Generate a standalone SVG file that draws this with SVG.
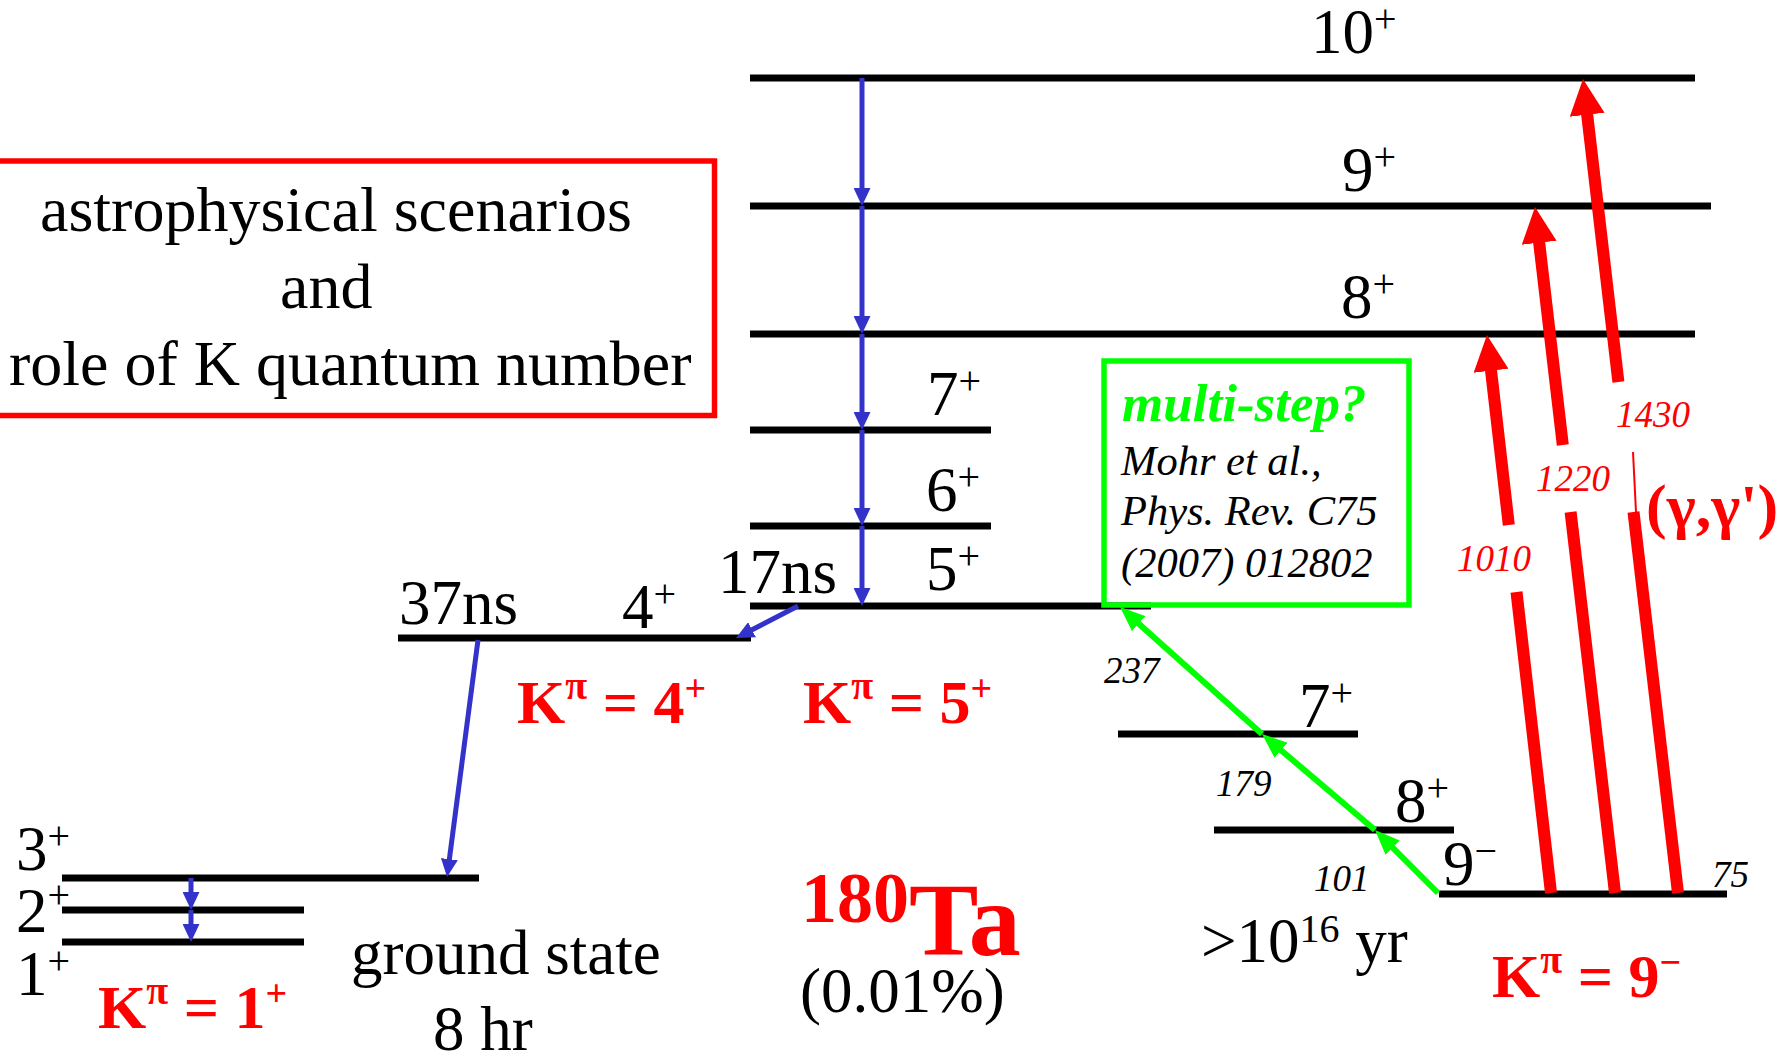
<svg xmlns="http://www.w3.org/2000/svg" width="1776" height="1058" viewBox="0 0 1776 1058">
<style>
.t{font-family:"Liberation Serif","Times New Roman",serif}
.lvl{stroke:#000;stroke-width:7;fill:none}
.lbl{font-size:63px;fill:#000}
.sup{font-size:40px}
.k{font-size:62px;font-weight:bold;fill:#FF0000}
.kpi{font-size:40px}
.ksup{font-size:38px}
.e{font-style:italic;font-size:37px}
.ered{fill:#FF0000}
.blue{stroke:#3333CC;stroke-width:5;fill:none}
.red{stroke:#FF0000;stroke-width:12;fill:none}
.green{stroke:#00FF00;stroke-width:6;fill:none}
.title{font-size:64px;fill:#000}
.ref{font-size:42.5px;font-style:italic;fill:#000}
</style>
<defs>
<marker id="ab" markerUnits="userSpaceOnUse" markerWidth="18" markerHeight="17" refX="6" refY="8.5" orient="auto"><path d="M0,0 L18,8.5 L0,17 z" fill="#3333CC"/></marker>
<marker id="ar" markerUnits="userSpaceOnUse" markerWidth="36" markerHeight="35" refX="11" refY="17.5" orient="auto"><path d="M0,0 L36,17.5 L0,35 z" fill="#FF0000"/></marker>
<marker id="ag" markerUnits="userSpaceOnUse" markerWidth="25" markerHeight="20" refX="10" refY="10" orient="auto"><path d="M0,0 L25,10 L0,20 z" fill="#00FF00"/></marker>
</defs>
<rect width="1776" height="1058" fill="#fff"/>

<g id="title-box">
<rect x="-10" y="161" width="724.5" height="254.5" fill="none" stroke="#FF0000" stroke-width="5.5"/>
<text class="t title" x="40" y="231">astrophysical scenarios</text>
<text class="t title" x="280" y="308">and</text>
<text class="t title" x="9" y="385">role of K quantum number</text>
</g>

<g id="lvl-k5-10p"><line class="lvl" x1="750" y1="78" x2="1695" y2="78"/><text class="t lbl" x="1311" y="53">10<tspan class="sup" dy="-21">+</tspan></text></g>
<g id="lvl-k5-9p"><line class="lvl" x1="750" y1="206" x2="1711" y2="206"/><text class="t lbl" x="1342" y="191">9<tspan class="sup" dy="-21">+</tspan></text></g>
<g id="lvl-k5-8p"><line class="lvl" x1="750" y1="334" x2="1695" y2="334"/><text class="t lbl" x="1341" y="318">8<tspan class="sup" dy="-21">+</tspan></text></g>
<g id="lvl-k5-7p"><line class="lvl" x1="750" y1="430" x2="991" y2="430"/><text class="t lbl" x="927" y="415">7<tspan class="sup" dy="-21">+</tspan></text></g>
<g id="lvl-k5-6p"><line class="lvl" x1="750" y1="526" x2="991" y2="526"/><text class="t lbl" x="926" y="511">6<tspan class="sup" dy="-21">+</tspan></text></g>
<g id="lvl-k5-5p"><line class="lvl" x1="750" y1="606" x2="1151" y2="606"/><text class="t lbl" x="926" y="590">5<tspan class="sup" dy="-21">+</tspan></text><text class="t lbl" x="718" y="593">17ns</text></g>
<g id="lvl-k4-4p"><line class="lvl" x1="398" y1="638" x2="751" y2="638"/><text class="t lbl" x="622" y="628">4<tspan class="sup" dy="-21">+</tspan></text><text class="t lbl" x="399" y="624">37ns</text></g>
<g id="lvl-k1-3p"><line class="lvl" x1="62" y1="878" x2="479" y2="878"/><text class="t lbl" x="16" y="870">3<tspan class="sup" dy="-21">+</tspan></text></g>
<g id="lvl-k1-2p"><line class="lvl" x1="62" y1="910" x2="304" y2="910"/><text class="t lbl" x="16" y="932">2<tspan class="sup" dy="-24">+</tspan></text></g>
<g id="lvl-k1-1p"><line class="lvl" x1="62" y1="942" x2="304" y2="942"/><text class="t lbl" x="16" y="995">1<tspan class="sup" dy="-21">+</tspan></text></g>
<g id="ground-state"><text class="t lbl" x="351" y="974">ground state</text><text class="t lbl" x="433" y="1050">8 hr</text></g>
<g id="lvl-k9-7p"><line class="lvl" x1="1118" y1="734" x2="1358" y2="734"/><text class="t lbl" x="1299" y="727">7<tspan class="sup" dy="-21">+</tspan></text></g>
<g id="lvl-k9-8p"><line class="lvl" x1="1214" y1="830" x2="1454" y2="830"/><text class="t lbl" x="1395" y="822">8<tspan class="sup" dy="-21">+</tspan></text></g>
<g id="lvl-k9-9m"><line class="lvl" x1="1439" y1="894" x2="1727" y2="894"/><text class="t lbl" x="1443" y="885">9<tspan class="sup" dy="-21">−</tspan></text><text class="t e" x="1712" y="887">75</text><text class="t lbl" x="1201" y="962">&gt;10<tspan class="sup" dy="-20">16</tspan><tspan dy="20"> yr</tspan></text></g>

<g id="nucleus"><text class="t" x="801" y="955" font-weight="bold" fill="#FF0000"><tspan font-size="72" dy="-33">180</tspan><tspan font-size="104" dy="33">Ta</tspan></text><text class="t lbl" x="800" y="1012">(0.01%)</text></g>

<g id="k-labels">
<text class="t k" x="98" y="1028">K<tspan class="kpi" dy="-24">π</tspan><tspan dy="24"> = 1</tspan><tspan class="ksup" dy="-22">+</tspan></text>
<text class="t k" x="517" y="723">K<tspan class="kpi" dy="-24">π</tspan><tspan dy="24"> = 4</tspan><tspan class="ksup" dy="-22">+</tspan></text>
<text class="t k" x="803" y="723">K<tspan class="kpi" dy="-24">π</tspan><tspan dy="24"> = 5</tspan><tspan class="ksup" dy="-22">+</tspan></text>
<text class="t k" x="1492" y="997">K<tspan class="kpi" dy="-24">π</tspan><tspan dy="24"> = 9</tspan><tspan class="ksup" dy="-22">−</tspan></text>
</g>

<g id="multistep-box">
<rect x="1104" y="361" width="305" height="244" fill="none" stroke="#00FF00" stroke-width="5.5"/>
<text class="t" x="1122" y="421" font-size="53" font-weight="bold" font-style="italic" fill="#00FF00">multi-step?</text>
<text class="t ref" x="1121" y="475">Mohr et al.,</text>
<text class="t ref" x="1121" y="525">Phys. Rev. C75</text>
<text class="t ref" x="1121" y="577">(2007) 012802</text>
</g>

<g id="connectors">
<line class="blue" x1="862" y1="78" x2="862" y2="194" marker-end="url(#ab)"/>
<line class="blue" x1="862" y1="206" x2="862" y2="322" marker-end="url(#ab)"/>
<line class="blue" x1="862" y1="334" x2="862" y2="418" marker-end="url(#ab)"/>
<line class="blue" x1="862" y1="430" x2="862" y2="514" marker-end="url(#ab)"/>
<line class="blue" x1="862" y1="526" x2="862" y2="594" marker-end="url(#ab)"/>
<line class="blue" x1="798" y1="606" x2="746.7" y2="632.5" marker-end="url(#ab)"/>
<line class="blue" x1="478" y1="640" x2="448.6" y2="865.1" marker-end="url(#ab)"/>
<line class="blue" x1="191" y1="878" x2="191" y2="898" marker-end="url(#ab)"/>
<line class="blue" x1="191" y1="910" x2="191" y2="930" marker-end="url(#ab)"/>

<line class="green" x1="1438" y1="893" x2="1385.6" y2="840.6" marker-end="url(#ag)"/>
<line class="green" x1="1375" y1="830" x2="1273.4" y2="743.7" marker-end="url(#ag)"/>
<line class="green" x1="1262" y1="734" x2="1131.2" y2="617" marker-end="url(#ag)"/>
<text class="t e" x="1104" y="683">237</text>
<text class="t e" x="1216" y="796">179</text>
<text class="t e" x="1314" y="891">101</text>

<line class="red" x1="1551" y1="893" x2="1516.5" y2="592"/>
<line class="red" x1="1508.8" y1="525" x2="1489.8" y2="359.8" marker-end="url(#ar)"/>
<line class="red" x1="1615" y1="893" x2="1570.6" y2="512"/>
<line class="red" x1="1562.8" y1="445" x2="1537.9" y2="231.8" marker-end="url(#ar)"/>
<line class="red" x1="1678" y1="893" x2="1633.5" y2="512"/>
<line x1="1633" y1="452" x2="1636" y2="512" stroke="#FF0000" stroke-width="2"/>
<line class="red" x1="1618.4" y1="382" x2="1585.9" y2="103.8" marker-end="url(#ar)"/>
<text class="t e ered" x="1457" y="571">1010</text>
<text class="t e ered" x="1536" y="491">1220</text>
<text class="t e ered" x="1616" y="427">1430</text>
<text class="t" x="1646" y="527" font-size="62" font-weight="bold" fill="#FF0000">(γ,γ')</text>
</g>
</svg>
